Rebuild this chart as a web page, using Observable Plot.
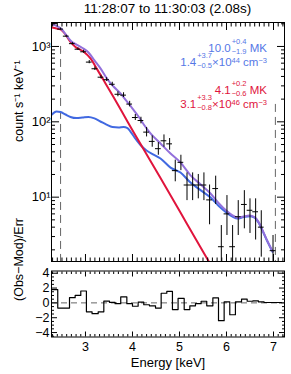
<!DOCTYPE html>
<html><head><meta charset="utf-8">
<script src="https://cdn.jsdelivr.net/npm/d3@7"></script>
<script src="https://cdn.jsdelivr.net/npm/@observablehq/plot@0.6"></script>
<style>
body{margin:0;background:#fff;font-family:"Liberation Sans",Arial,Helvetica,sans-serif;}
#wrap{position:relative;width:291px;height:374px;overflow:hidden;background:#fff}
#title{position:absolute;left:41px;width:253px;top:1px;text-align:center;font-size:13.5px;color:#000;white-space:nowrap}
#main,#resid{position:absolute;left:0}
#main{top:0}
#resid{top:262px}
.ann{position:absolute;right:24px;font-size:11.5px;line-height:10px;white-space:nowrap;text-align:right}
.ss{display:inline-block;vertical-align:-2px;font-size:7.5px;line-height:7px;text-align:left;margin-left:1px}
.ss span{display:block;height:7px}
.ss span.up{margin-bottom:3px}
.sp{font-size:7.5px;vertical-align:3.5px;line-height:0}
</style></head>
<body>
<div id="wrap">
  <div id="main"></div>
  <div id="resid"></div>
  <div id="title"></div>
</div>
<script>
// ---------- data ----------
const titleText = "11:28:07 to 11:30:03 (2.08s)";
const yLabelMain = "count s\u207B\u00B9 keV\u207B\u00B9";
const yLabelResid = "(Obs\u2212Mod)/Err";
const xLabel = "Energy [keV]";

// observed spectrum (bin centre energy, rate, error low/high)
const obsEnergy = [2.35, 2.47, 2.59, 2.72, 2.84, 2.96, 3.08, 3.20, 3.33, 3.45, 3.57, 3.69, 3.81, 3.94, 4.06, 4.18, 4.30, 4.42, 4.55, 4.67, 4.79, 4.91, 5.03, 5.16, 5.28, 5.40, 5.52, 5.64, 5.77, 5.89, 6.01, 6.13, 6.25, 6.38, 6.50, 6.62, 6.74, 6.99];
const obsRate   = [2010, 1700, 1370, 1090, 920, 850, 620, 506, 391, 362, 315, 232, 226, 172, 114, 104, 73, 55, 44, 56, 51, 22.5, 29, 14.5, 14.5, 14.5, 14.5, 9.2, 13, 2.2, 6.0, 2.2, 5.5, 8.0, 6.7, 6.4, 4.0, 1.95];
const obsLo     = [1950, 1650, 1330, 1050, 885, 815, 590, 480, 370, 343, 295, 215, 210, 158, 104, 94, 63, 46, 36, 46, 42, 16, 22.5, 9, 9, 9.5, 9, 4.3, 8, 0.8, 3.1, 0.8, 3.1, 3.8, 3.3, 2.7, 1.6, 0.8];
const obsHi     = [2070, 1750, 1410, 1130, 960, 890, 650, 535, 415, 385, 335, 250, 243, 187, 125, 115, 84, 65, 53, 67, 60, 31, 36, 21, 21, 20, 21, 14.5, 19, 4.2, 10.5, 4.2, 9.0, 12.2, 9.5, 9.5, 6.6, 3.1];
const binHalf = 0.061;

// model components
const blueE = [2.287, 2.383, 2.468, 2.574, 2.681, 2.809, 2.936, 3.064, 3.191, 3.319, 3.447, 3.574, 3.702, 3.809, 3.894, 3.957, 4.043, 4.170, 4.298, 4.447, 4.596, 4.809, 5.021, 5.234, 5.447, 5.660, 5.830, 6.000, 6.128, 6.234, 6.362, 6.489, 6.596, 6.681, 6.766, 6.851, 6.979];
const blueV = [125, 137, 135, 125, 116, 112, 114, 116, 111, 101, 92, 85.2, 84, 85.2, 82.7, 74.3, 61.9, 49.2, 41.6, 36.8, 32.6, 24.7, 21.2, 15.6, 12.4, 9.9, 7.7, 6.24, 5.52, 5.2, 5.44, 5.6, 5.36, 4.6, 3.6, 2.74, 1.89];

const redE = [2.287, 2.383, 2.468, 2.574, 2.681, 2.787, 2.957, 3.106, 3.255, 3.426, 3.596, 3.809, 4.021, 4.240, 4.596, 5.021, 5.447, 5.702];
const redV = [1787, 1734, 1682, 1443, 1148, 985, 858, 693, 489, 323, 213, 125, 73.2, 42.8, 17.9, 6.24, 2.17, 1.15];

const totalE = [2.287, 2.383, 2.489, 2.596, 2.702, 2.809, 2.936, 3.064, 3.191, 3.319, 3.468, 3.596, 3.745, 3.872, 4.000, 4.128, 4.255, 4.383, 4.596, 4.809, 5.021, 5.234, 5.447, 5.660, 5.830, 6.000, 6.128, 6.234, 6.362, 6.489, 6.596, 6.681, 6.766, 6.851, 6.979];
const totalV = [1950, 1880, 1707, 1401, 1164, 1060, 955, 832, 652, 511, 365, 294, 238, 189, 150, 117.5, 89.3, 70, 51.5, 37.9, 28.8, 19.5, 14.8, 11.2, 8.4, 6.6, 5.75, 5.35, 5.55, 5.7, 5.45, 4.7, 3.65, 2.78, 1.92];

// fit energy range markers
const fitEnergy = [2.47, 7.04];
const fitTop = [1000, 170];

// residuals (bin left edges + final right edge, values per bin)
const residEdge = [2.29, 2.41, 2.53, 2.66, 2.78, 2.90, 3.02, 3.14, 3.27, 3.39, 3.51, 3.63, 3.75, 3.88, 4.00, 4.12, 4.24, 4.36, 4.49, 4.61, 4.73, 4.85, 4.97, 5.10, 5.22, 5.34, 5.46, 5.58, 5.71, 5.83, 5.95, 6.07, 6.19, 6.32, 6.44, 6.56, 6.68, 6.80, 6.93, 7.05, 7.17];
const residVal = [1.8, -0.7, -0.7, 0.7, 1.0, 1.6, -1.2, -1.45, -1.2, 0.25, 0.07, -0.1, 0.8, -0.1, -0.45, 0.1, -0.25, -0.4, -0.7, 1.3, 1.55, -0.9, 0.6, -0.9, -0.4, -0.1, 0.22, -0.4, 0.68, -2.4, 0.13, -1.6, 0.13, 0.5, 0.22, 0.27, 0.13, 0.05, 0.05, 0.05];
const zeroLine = [0];

// fit parameters (annotation)
const tempVal = ["10.0", "4.1"], tempUp = ["0.4", "0.2"], tempDn = ["1.9", "0.6"];
const emVal = ["1.4", "3.1"], emUp = ["3.7", "3.3"], emDn = ["0.5", "0.8"], emExp = ["44", "46"];

// axes ticks / labels
const xMajor = [3, 4, 5, 6, 7];
const yMajor = [10, 100, 1000];
const yMajorLabel = ["10\u00B9", "10\u00B2", "10\u00B3"];
const rMajor = [-4, -2, 0, 2, 4];
const rMajorLabel = ["\u22124", "\u22122", "0", "2", "4"];

// ---------- drawing ----------
const FONT = '"Liberation Sans", Arial, Helvetica, sans-serif';
const BLUE = "#4169e1", RED = "#e0143c", PURPLE = "#9370db";
const BLUE_T = "#5577e6", RED_T = "#e0143c";
const xDomain = [2.277, 7.234];
const yDomain = [1.4, 2080];

const xMinor = d3.ticks(2.3, 7.2, 49).filter(d => Math.abs(d - Math.round(d)) > 0.01);
const yMinor = d3.scaleLog().domain(yDomain).ticks().filter(d => !yMajor.includes(d));
const rMinor = d3.range(-4.5, 4.01, 0.5).filter(d => !rMajor.includes(d));

const obs = obsEnergy.map((e, i) => ({e, v: obsRate[i], lo: obsLo[i], hi: obsHi[i]}));
const pts = (E, V) => E.map((e, i) => ({e, v: V[i]}));
const fit = fitEnergy.map((e, i) => ({e, top: fitTop[i], bottom: yDomain[0]}));
const resid = residEdge.map((e, i) => ({e, r: residVal[Math.min(i, residVal.length - 1)]}));
const yLab = new Map(yMajor.map((d, i) => [d, yMajorLabel[i]]));
const rLab = new Map(rMajor.map((d, i) => [d, rMajorLabel[i]]));
const blank = () => "";

const mainPlot = Plot.plot({
  width: 291, height: 268,
  marginTop: 22, marginBottom: 7, marginLeft: 51, marginRight: 7,
  x: {domain: xDomain},
  y: {type: "log", domain: yDomain},
  style: {fontFamily: FONT, fontSize: "12px", color: "black", background: "transparent", overflow: "visible"},
  marks: [
    Plot.ruleX(fit, {x: "e", y1: "top", y2: "bottom", stroke: "#666", strokeWidth: 1, strokeDasharray: "8,5"}),
    Plot.line(pts(blueE, blueV), {x: "e", y: "v", stroke: BLUE, strokeWidth: 2, curve: "monotone-x", clip: true}),
    Plot.line(pts(redE, redV), {x: "e", y: "v", stroke: RED, strokeWidth: 2, curve: "monotone-x", clip: true}),
    Plot.line(pts(totalE, totalV), {x: "e", y: "v", stroke: PURPLE, strokeWidth: 2, curve: "monotone-x", clip: true}),
    Plot.ruleX(obs, {x: "e", y1: "lo", y2: "hi", stroke: "black", strokeWidth: 1, clip: true}),
    Plot.ruleY(obs, {y: "v", x1: d => d.e - binHalf, x2: d => d.e + binHalf, stroke: "black", strokeWidth: 1, clip: true}),
    Plot.frame({stroke: "black"}),
    Plot.axisX(xMajor, {anchor: "bottom", tickSize: -7, tickFormat: blank, label: null}),
    Plot.axisX(xMinor, {anchor: "bottom", tickSize: -3.5, tickFormat: blank, label: null}),
    Plot.axisX(xMajor, {anchor: "top", tickSize: -7, tickFormat: blank, label: null}),
    Plot.axisX(xMinor, {anchor: "top", tickSize: -3.5, tickFormat: blank, label: null}),
    Plot.axisY(yMajor, {anchor: "left", tickSize: -8, tickPadding: 9, tickFormat: d => yLab.get(d), fontSize: 13, label: null}),
    Plot.axisY(yMinor, {anchor: "left", tickSize: -4, tickFormat: blank, label: null}),
    Plot.axisY(yMajor, {anchor: "right", tickSize: -8, tickFormat: blank, label: null}),
    Plot.axisY(yMinor, {anchor: "right", tickSize: -4, tickFormat: blank, label: null}),
    Plot.text([yLabelMain], {frameAnchor: "left", rotate: -90, dx: -33, fontSize: 12.5})
  ]
});
document.getElementById("main").appendChild(mainPlot);

const residPlot = Plot.plot({
  width: 291, height: 112,
  marginTop: 8.5, marginBottom: 37.5, marginLeft: 51, marginRight: 7,
  x: {domain: xDomain},
  y: {domain: [-4.6, 4.3]},
  style: {fontFamily: FONT, fontSize: "12px", color: "black", background: "transparent", overflow: "visible"},
  marks: [
    Plot.ruleY(zeroLine, {stroke: "#666", strokeWidth: 1, strokeDasharray: "6,4"}),
    Plot.line(resid, {x: "e", y: "r", curve: "step-after", stroke: "black", strokeWidth: 1.2}),
    Plot.frame({stroke: "black"}),
    Plot.axisX(xMajor, {anchor: "bottom", tickSize: -5, tickPadding: 10, fontSize: 12.5, label: null}),
    Plot.axisX(xMinor, {anchor: "bottom", tickSize: -2.5, tickFormat: blank, label: null}),
    Plot.axisX(xMajor, {anchor: "top", tickSize: -5, tickFormat: blank, label: null}),
    Plot.axisX(xMinor, {anchor: "top", tickSize: -2.5, tickFormat: blank, label: null}),
    Plot.axisY(rMajor, {anchor: "left", tickSize: -6, tickPadding: 8, tickFormat: d => rLab.get(d), fontSize: 12.5, label: null}),
    Plot.axisY(rMinor, {anchor: "left", tickSize: -3, tickFormat: blank, label: null}),
    Plot.axisY(rMajor, {anchor: "right", tickSize: -6, tickFormat: blank, label: null}),
    Plot.axisY(rMinor, {anchor: "right", tickSize: -3, tickFormat: blank, label: null}),
    Plot.text([yLabelResid], {frameAnchor: "left", rotate: -90, dx: -33, dy: -3, fontSize: 12.5}),
    Plot.text([xLabel], {frameAnchor: "bottom", lineAnchor: "middle", dy: 26, fontSize: 13})
  ]
});
document.getElementById("resid").appendChild(residPlot);

document.getElementById("title").textContent = titleText;

// annotations
const wrap = document.getElementById("wrap");
const annBaselines = [[50, 64], [92, 106]];
const annColors = [BLUE_T, RED_T];
tempVal.forEach((t, i) => {
  const l1 = document.createElement("div");
  l1.className = "ann";
  l1.style.color = annColors[i];
  l1.style.top = (annBaselines[i][0] - 12.1) + "px";
  l1.innerHTML = `${t}<span class="ss"><span class="up">+${tempUp[i]}</span><span>\u2212${tempDn[i]}</span></span> MK`;
  wrap.appendChild(l1);
  const l2 = document.createElement("div");
  l2.className = "ann";
  l2.style.color = annColors[i];
  l2.style.top = (annBaselines[i][1] - 12.1) + "px";
  l2.innerHTML = `${emVal[i]}<span class="ss"><span class="up">+${emUp[i]}</span><span>\u2212${emDn[i]}</span></span>\u00D710<span class="sp">${emExp[i]}</span> cm<span class="sp">\u22123</span>`;
  wrap.appendChild(l2);
});
</script>
</body></html>
